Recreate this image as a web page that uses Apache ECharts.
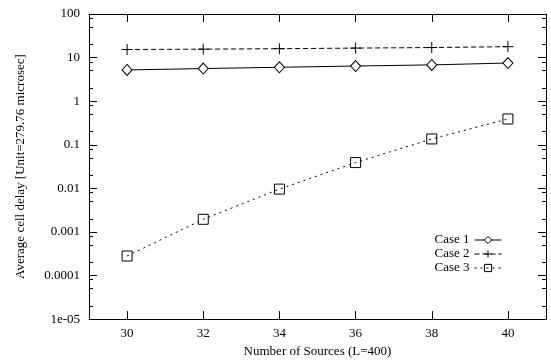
<!DOCTYPE html>
<html>
<head>
<meta charset="utf-8">
<script src="https://cdn.jsdelivr.net/npm/echarts@6/dist/echarts.min.js"></script>
<style>
  html, body { margin: 0; padding: 0; background: #fff; }
  #chart { width: 551px; height: 363px; }
</style>
</head>
<body>
<div id="chart"></div>
<script>
    // data
    var sources = [30, 32, 34, 36, 38, 40];
    var case1 = [5.2, 5.6, 6.0, 6.4, 6.8, 7.5];
    var case2 = [15.3, 15.6, 16.0, 16.5, 17.0, 17.8];
    var case3 = [0.00028, 0.00195, 0.0096, 0.039, 0.136, 0.39];

    var xTicks = [30, 32, 34, 36, 38, 40];
    var yTickValues = [100, 10, 1, 0.1, 0.01, 0.001, 0.0001, 0.00001];
    var yTickLabels = ['100', '10', '1', '0.1', '0.01', '0.001', '0.0001', '1e-05'];
    var minorMantissas = [2, 5, 8];

    var font = 'Liberation Serif';

    // minor tick positions, in log10 space (for the tick-only overlay axes)
    var minorLog = [];
    for (var e = -5; e < 2; e++) {
        minorMantissas.forEach(function (m) { minorLog.push(e + Math.log10(m)); });
    }

    function pairs(vals) {
        return sources.map(function (s, i) { return [s, vals[i]]; });
    }

    function yLabel(v) {
        for (var i = 0; i < yTickValues.length; i++) {
            if (Math.abs(Math.log10(v) - Math.log10(yTickValues[i])) < 1e-6) return yTickLabels[i];
        }
        return '';
    }

    var axisLine = { show: true, onZero: false, lineStyle: { color: '#000', width: 1 } };
    var noLine = { show: false, onZero: false };
    var majorTick = { show: true, inside: true, length: 8, lineStyle: { color: '#000' } };
    var minorTickStyle = { show: true, inside: true, length: 4, lineStyle: { color: '#000' }, customValues: minorLog };
    var labelFont = { color: '#000', fontFamily: font, fontSize: 13 };

    var chart = echarts.init(document.getElementById('chart'));
    chart.setOption({
        animation: false,
        backgroundColor: '#fff',
        grid: { left: 89, right: 5, top: 14, bottom: 39 },
        legend: {
            orient: 'vertical',
            right: 44,
            top: 228,
            align: 'right',
            itemWidth: 27,
            itemHeight: 9,
            itemGap: 0,
            lineStyle: { width: 1 },
            itemStyle: { borderWidth: 1 },
            textStyle: { color: '#000', fontFamily: font, fontSize: 13, lineHeight: 14 },
            data: ['Case 1', 'Case 2', 'Case 3']
        },
        xAxis: [{
            type: 'value', min: 29, max: 41, position: 'bottom',
            name: 'Number of Sources (L=400)', nameLocation: 'middle', nameGap: 21,
            nameTextStyle: labelFont,
            axisLine: axisLine,
            axisTick: Object.assign({ customValues: xTicks }, majorTick),
            axisLabel: Object.assign({ customValues: xTicks, margin: 8 }, labelFont),
            splitLine: { show: false }
        }, {
            type: 'value', min: 29, max: 41, position: 'top',
            axisLine: axisLine,
            axisTick: Object.assign({ customValues: xTicks }, majorTick),
            axisLabel: { show: false },
            splitLine: { show: false }
        }],
        yAxis: [{
            type: 'log', logBase: 10, min: 0.00001, max: 100, position: 'left',
            name: 'Average cell delay [Unit=279.76 microsec]', nameLocation: 'middle', nameGap: 62,
            nameTextStyle: labelFont,
            axisLine: axisLine,
            axisTick: Object.assign({ customValues: yTickValues }, majorTick),
            axisLabel: Object.assign({ customValues: yTickValues, margin: 9, formatter: yLabel }, labelFont),
            splitLine: { show: false }
        }, {
            type: 'log', logBase: 10, min: 0.00001, max: 100, position: 'right',
            axisLine: axisLine,
            axisTick: Object.assign({ customValues: yTickValues }, majorTick),
            axisLabel: { show: false },
            splitLine: { show: false }
        }, {
            type: 'value', min: -5, max: 2, position: 'left',
            axisLine: noLine,
            axisTick: minorTickStyle,
            axisLabel: { show: false },
            splitLine: { show: false }
        }, {
            type: 'value', min: -5, max: 2, position: 'right',
            axisLine: noLine,
            axisTick: minorTickStyle,
            axisLabel: { show: false },
            splitLine: { show: false }
        }],
        series: [{
            name: 'Case 1', type: 'line', data: pairs(case1),
            symbol: 'diamond', symbolSize: [10, 11],
            lineStyle: { color: '#000', width: 1, type: 'solid' },
            itemStyle: { color: '#fff', borderColor: '#000', borderWidth: 1 }
        }, {
            name: 'Case 2', type: 'line', data: pairs(case2),
            symbol: 'path://M0,5L10,5M5,0L5,10', symbolSize: 11,
            lineStyle: { color: '#000', width: 1, type: [5, 3] },
            itemStyle: { color: '#fff', borderColor: '#000', borderWidth: 1 }
        }, {
            name: 'Case 3', type: 'line', data: pairs(case3),
            symbol: 'rect', symbolSize: 10,
            lineStyle: { color: '#000', width: 1, type: [2, 4] },
            itemStyle: { color: 'rgba(255,255,255,0)', borderColor: '#000', borderWidth: 1 }
        }]
    });
</script>
</body>
</html>
